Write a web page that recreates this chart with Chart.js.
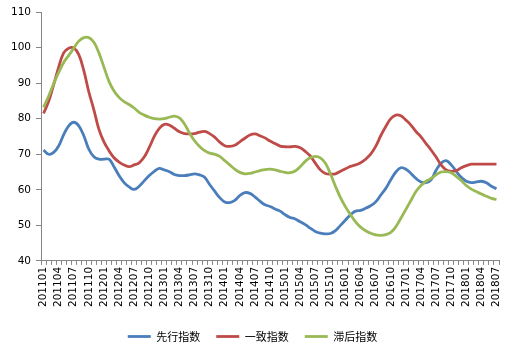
<!DOCTYPE html>
<html>
<head>
<meta charset="utf-8">
<script src="https://cdn.jsdelivr.net/npm/chart.js@4"></script>
<style>
  body { margin: 0; background: #fff; }
  #wrap { width: 514px; height: 352px; position: relative; }
</style>
</head>
<body>
<div id="wrap"><canvas id="myChart"></canvas></div>
<script>
const months = [
  '201101','201102','201103','201104','201105','201106','201107','201108','201109','201110','201111','201112',
  '201201','201202','201203','201204','201205','201206','201207','201208','201209','201210','201211','201212',
  '201301','201302','201303','201304','201305','201306','201307','201308','201309','201310','201311','201312',
  '201401','201402','201403','201404','201405','201406','201407','201408','201409','201410','201411','201412',
  '201501','201502','201503','201504','201505','201506','201507','201508','201509','201510','201511','201512',
  '201601','201602','201603','201604','201605','201606','201607','201608','201609','201610','201611','201612',
  '201701','201702','201703','201704','201705','201706','201707','201708','201709','201710','201711','201712',
  '201801','201802','201803','201804','201805','201806','201807'
];

const seriesNames = ['先行指数', '一致指数', '滞后指数'];

// 先行指数
const leading = [
  71.2, 70.0, 70.5, 72.3, 75.5, 78.0, 79.0, 78.0, 75.2, 71.4, 69.3, 68.6,
  68.6, 68.6, 66.5, 64.0, 62.0, 60.8, 60.1, 61.0, 62.5, 64.0, 65.2, 66.0,
  65.6, 65.1, 64.3, 64.0, 64.0, 64.2, 64.5, 64.2, 63.5, 61.5, 59.6, 57.8,
  56.6, 56.4, 57.0, 58.4, 59.2, 59.0, 58.0, 56.8, 55.8, 55.3, 54.6, 54.0,
  53.0, 52.2, 51.8, 51.0, 50.2, 49.2, 48.3, 47.8, 47.6, 47.7, 48.5, 50.0,
  51.5, 53.0, 54.0, 54.2, 54.8, 55.5, 56.6, 58.5, 60.4, 62.8, 65.0, 66.2,
  65.8, 64.6, 63.2, 62.2, 62.0, 62.8, 65.5, 67.5, 68.2, 67.0, 65.2, 63.5,
  62.4, 62.0, 62.2, 62.4, 62.0, 61.0, 60.3
];

// 一致指数
const coincident = [
  81.5, 84.8, 89.5, 94.5, 98.5, 99.8, 99.9, 98.0, 93.5, 87.5, 82.5, 77.0,
  73.5, 71.0, 69.0, 67.8, 67.0, 66.5, 67.0, 67.6, 69.2, 71.9, 75.0, 77.3,
  78.4, 78.2, 77.3, 76.3, 75.8, 75.7, 75.8, 76.2, 76.4, 75.8, 74.8, 73.4,
  72.4, 72.2, 72.5, 73.5, 74.5, 75.4, 75.7, 75.2, 74.6, 73.7, 73.0, 72.3,
  72.1, 72.1, 72.2, 71.8, 70.8, 69.5, 67.5, 65.6, 64.6, 64.4, 64.5, 65.2,
  65.9, 66.6, 67.0, 67.6, 68.6, 70.0, 72.2, 75.2, 77.8, 80.0, 81.0, 80.8,
  79.6, 78.2, 76.4, 74.9, 73.0, 71.2, 69.2, 67.0, 65.6, 65.2, 65.4, 66.2,
  66.8, 67.2, 67.2, 67.2, 67.2, 67.2, 67.2
];

// 滞后指数
const lagging = [
  83.2, 86.3, 89.8, 93.0, 95.8, 97.8, 99.8, 101.8, 102.8, 102.8, 101.5, 98.5,
  94.5, 90.5, 87.8, 86.0, 84.8, 84.0, 83.0, 81.8, 81.0, 80.4, 80.0, 79.9,
  80.0, 80.4, 80.7, 80.2, 78.5, 76.0, 73.8, 72.2, 71.0, 70.3, 70.0, 69.4,
  68.2, 67.0, 65.8, 64.9, 64.5, 64.6, 65.0, 65.4, 65.7, 65.8, 65.6, 65.2,
  64.9, 64.8, 65.3, 66.5, 68.0, 69.0, 69.4, 69.0, 67.5, 64.5, 61.0, 57.8,
  55.2, 53.0, 51.0, 49.5, 48.5, 47.8, 47.3, 47.2, 47.4, 48.0, 49.6, 52.0,
  54.5, 57.0, 59.5, 61.2, 62.4, 63.2, 64.2, 65.0, 65.1, 64.8, 63.8, 62.6,
  61.2, 60.2, 59.5, 58.8, 58.2, 57.6, 57.3
];

const yTicks = [40, 50, 60, 70, 80, 90, 100, 110];

const axisGray = '#868686';

const renderChart = () => {
  const ctx = document.getElementById('myChart');

  const mk = (label, data, color, order) => ({
    label: label,
    data: data,
    borderColor: color,
    backgroundColor: color,
    borderWidth: 2.8,
    pointRadius: 0,
    tension: 0.4,
    fill: false,
    order: order
  });

  new Chart(ctx, {
    type: 'line',
    data: {
      labels: months,
      datasets: [
        mk(seriesNames[0], leading, '#4A7EBB', 2),
        mk(seriesNames[1], coincident, '#BE4B48', 1),
        mk(seriesNames[2], lagging, '#98B954', 0)
      ]
    },
    options: {
      responsive: true,
      maintainAspectRatio: false,
      animation: false,
      layout: { padding: { left: 6, right: 15, top: 12, bottom: 0 } },
      plugins: {
        tooltip: { enabled: false },
        legend: {
          position: 'bottom',
          labels: {
            usePointStyle: true,
            pointStyle: 'line',
            pointStyleWidth: 23,
            padding: 16,
            color: '#000',
            font: { family: '"Noto Sans CJK SC", sans-serif', size: 11 },
            sort: (a, b) => a.datasetIndex - b.datasetIndex
          }
        }
      },
      scales: {
        x: {
          offset: true,
          afterFit: (axis) => { axis.height += 6; },
          grid: {
            offset: true,
            drawOnChartArea: false,
            color: axisGray,
            tickLength: 4
          },
          border: { color: axisGray, width: 1 },
          ticks: {
            autoSkip: false,
            maxRotation: 90,
            minRotation: 90,
            padding: 2,
            color: '#000',
            font: { family: '"DejaVu Sans", sans-serif', size: 10.5 },
            callback: (v, i) => (i % 3 === 0 ? months[i] : '')
          }
        },
        y: {
          min: 40,
          max: 110,
          afterBuildTicks: (axis) => { axis.ticks = yTicks.map(v => ({ value: v })); },
          grid: {
            drawOnChartArea: false,
            color: axisGray,
            tickLength: 5
          },
          border: { color: axisGray, width: 1 },
          ticks: {
            padding: 5,
            color: '#000',
            font: { family: '"DejaVu Sans", sans-serif', size: 10.5 }
          }
        }
      }
    }
  });
};

renderChart();
</script>
</body>
</html>
